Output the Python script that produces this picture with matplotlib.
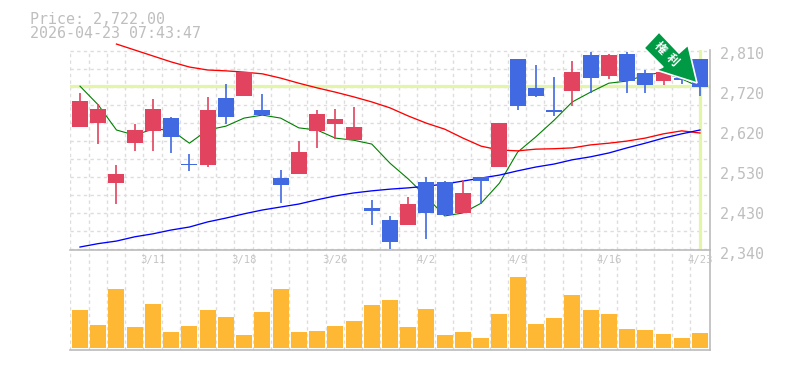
import numpy as np
import matplotlib
matplotlib.use("Agg")
import matplotlib.pyplot as plt
from matplotlib.patches import Polygon
from matplotlib.transforms import IdentityTransform, ScaledTranslation

open_p = [2629, 2638, 2497, 2591, 2620, 2650, 2542, 2540, 2697, 2702, 2669, 2509,
          2519, 2620, 2636, 2598, 2439, 2410, 2399, 2500, 2500, 2427, 2512, 2535,
          2789, 2721, 2669, 2714, 2798, 2749, 2801, 2756, 2737, 2744, 2789]
high_p = [2709, 2683, 2540, 2636, 2695, 2653, 2566, 2700, 2730, 2758, 2707, 2528,
          2596, 2669, 2671, 2676, 2458, 2420, 2465, 2512, 2502, 2504, 2512, 2638,
          2789, 2775, 2747, 2784, 2805, 2801, 2805, 2763, 2758, 2749, 2789]
low_p = [2629, 2589, 2448, 2573, 2573, 2568, 2526, 2535, 2636, 2702, 2657, 2450,
         2519, 2580, 2601, 2598, 2399, 2342, 2399, 2366, 2422, 2427, 2448, 2535,
         2669, 2700, 2655, 2678, 2709, 2742, 2709, 2709, 2728, 2730, 2702]
close_p = [2690, 2671, 2519, 2622, 2671, 2606, 2540, 2669, 2653, 2758, 2657, 2493,
           2570, 2660, 2648, 2629, 2432, 2359, 2448, 2427, 2422, 2474, 2502, 2638,
           2678, 2702, 2664, 2758, 2744, 2798, 2737, 2728, 2758, 2740, 2722]

ma_green = [2725, 2681, 2622, 2610, 2624, 2622, 2591, 2622, 2631, 2650, 2657, 2650,
            2627, 2622, 2603, 2598, 2589, 2544, 2507, 2465, 2420, 2427, 2450, 2497,
            2570, 2606, 2645, 2688, 2711, 2732, 2737, 2751, 2758, 2742, 2723]
ma_red = [np.nan, np.nan, 2824, 2810, 2796, 2782, 2770, 2763, 2761, 2758, 2754, 2744,
          2732, 2721, 2711, 2700, 2688, 2674, 2655, 2638, 2624, 2603, 2584, 2575,
          2573, 2577, 2578, 2580, 2587, 2591, 2596, 2603, 2613, 2620, 2615]
ma_blue = [2347, 2355, 2361, 2371, 2378, 2387, 2394, 2406, 2415, 2425, 2434, 2441,
           2448, 2458, 2467, 2474, 2479, 2483, 2486, 2490, 2495, 2502, 2509, 2516,
           2526, 2535, 2542, 2552, 2559, 2568, 2580, 2591, 2603, 2613, 2622]

volume = [38, 23, 59, 21, 44, 16, 22, 38, 31, 13, 36, 59, 16, 17, 22, 27, 43, 48,
          21, 39, 13, 16, 10, 34, 71, 24, 30, 53, 38, 34, 19, 18, 14, 10, 15]

price_now = 2722
price_line = 2725
date_pos = [4, 9, 14, 19, 24, 29, 34]
date_labels = ["3/11", "3/18", "3/26", "4/2", "4/9", "4/16", "4/23"]
ytick_vals = [2810, 2716, 2622, 2528, 2434, 2340]
ytick_labels = ["2,810", "2,720", "2,620", "2,530", "2,430", "2,340"]

RED = "#E2435F"
BLUE = "#4169E1"
ORANGE = "#FFB833"
GRID = "#DDDDDD"
AXIS = "#BBBBBB"
TEXT = "#BEBEBE"
LIME = "#E3F5A8"

W, H = 785, 370
fig = plt.figure(figsize=(W / 100, H / 100), dpi=100)
ax = fig.add_axes([70 / W, 1 - 250 / H, 640 / W, 200 / H])
ax2 = fig.add_axes([70 / W, 1 - 350 / H, 640 / W, 100 / H])

x = np.arange(len(open_p))
xlim = (-0.548, 34.55)

for a in (ax, ax2):
    a.set_xlim(xlim)
    a.set_xticks([])
    a.patch.set_alpha(0)
    for s in ("top", "left"):
        a.spines[s].set_visible(False)
    for s in ("bottom", "right"):
        a.spines[s].set_color(AXIS)
        a.spines[s].set_linewidth(1.2)
    for gx in np.arange(len(open_p)) - 0.53:
        a.axvline(gx, color=GRID, lw=1, ls=(0, (2.4, 2.4)), zorder=0)

ax.set_ylim(2340, 2810)
for gy in 2807.65 - 42.3 * np.arange(12):
    ax.axhline(gy, color=GRID, lw=1, ls=(0, (2.4, 2.4)), zorder=0)

ax.axhline(price_line, color=LIME, lw=2.3, zorder=1)
ax.axvline(x[-1], color=LIME, lw=2.3, zorder=1)

ax.plot(x, ma_green, color="#008000", lw=0.8, zorder=2, clip_on=False)
ax.plot(x, ma_red, color="#FF0000", lw=0.95, zorder=2, clip_on=False)
ax.plot(x, ma_blue, color="#0000FF", lw=0.95, zorder=2, clip_on=False)

colors = [RED if c >= o else BLUE for o, c in zip(open_p, close_p)]
body_low = np.minimum(open_p, close_p)
body_h = np.abs(np.array(close_p) - np.array(open_p))
ax.vlines(x, low_p, high_p, colors=colors, lw=1.2, zorder=3)
ax.bar(x, body_h, bottom=body_low, width=0.877, color=colors, linewidth=0, zorder=4)

ax.yaxis.tick_right()
ax.set_yticks(ytick_vals)
ax.set_yticklabels(ytick_labels, family="DejaVu Sans Mono", fontsize=10.8, color=TEXT)
ax.tick_params(axis="y", length=0, pad=7)
off = ScaledTranslation(0, -3 / 72 * 0.72, fig.dpi_scale_trans)
for lab in ax.get_yticklabels():
    lab.set_transform(lab.get_transform() + off)

ax2.set_ylim(-2, 98)
ax2.set_yticks([])
ax2.bar(x, volume, width=0.877, color=ORANGE, linewidth=0, zorder=3)
for p, lab in zip(date_pos, date_labels):
    ax2.text(p, 88, lab, ha="center", va="center", color="#C4C4C4", fontsize=7.6,
             family="DejaVu Sans Mono", zorder=4)

fig.text(30 / W, 1 - 19 / H, "Price: {:,.2f}".format(price_now), family="DejaVu Sans Mono",
         fontsize=10.8, color=TEXT, va="center")
fig.text(30 / W, 1 - 33 / H, "2026-04-23 07:43:47", family="DejaVu Sans Mono",
         fontsize=10.8, color=TEXT, va="center")

# arrow badge, in pixels
arrow_px = [(659, 32), (679, 53), (688, 45), (697, 83), (656, 70), (663, 67), (644, 48)]
arrow = Polygon([(px, H - py) for px, py in arrow_px], closed=True, transform=IdentityTransform(),
                facecolor="#009944", edgecolor="white", lw=1.2, zorder=10)
fig.add_artist(arrow)
for ch, (px, py) in zip("権利", [(660, 48), (672, 60)]):
    fig.text(px / W, 1 - py / H, ch, family=["Noto Sans CJK JP", "DejaVu Sans"], fontsize=8.6,
             fontweight="bold", color="white", rotation=-45, ha="center", va="center", zorder=11)

fig.savefig("out.png", dpi=100)
